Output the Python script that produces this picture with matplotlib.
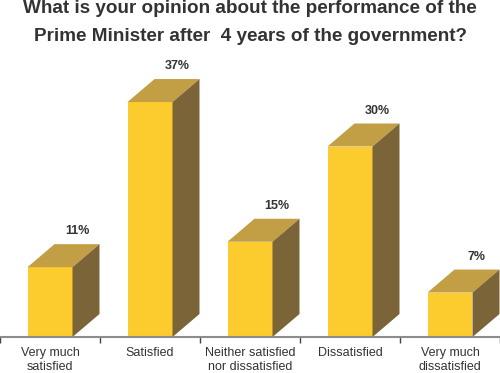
#!/usr/bin/env python
# coding=utf-8

import matplotlib
matplotlib.use("Agg")
import matplotlib.pyplot as plt
from matplotlib.patches import Polygon

categories = ["Very much\nsatisfied", "Satisfied", "Neither satisfied\nnor dissatisfied",
              "Dissatisfied", "Very much\ndissatisfied"]
values = [11, 37, 15, 30, 7]
labels = ["11%", "37%", "15%", "30%", "7%"]

title = "What is your opinion about the performance of the\nPrime Minister after  4 years of the government?"

FRONT = "#fccb2d"
TOP = "#c29e45"
SIDE = "#7b6538"
TEXT = "#333333"

plt.rcParams['font.family'] = ['Liberation Sans', 'DejaVu Sans']

fig = plt.figure(figsize=(5.0, 3.73), dpi=100)
# baseline at 337 px from top, axes top at 60 px from top
ax = fig.add_axes([0.0, 36 / 373.0, 1.0, 277 / 373.0])
ax.set_xlim(-0.5, 4.5)
ax.set_ylim(0, 277 / 6.35)

w = 0.45
dx = 0.27
dy = 23 / 6.35

for i, v in enumerate(values):
    x0 = i - w / 2
    x1 = i + w / 2
    front = Polygon([(x0, 0), (x1, 0), (x1, v), (x0, v)], closed=True,
                    facecolor=FRONT, edgecolor="none", zorder=3)
    top = Polygon([(x0, v), (x1, v), (x1 + dx, v + dy), (x0 + dx, v + dy)], closed=True,
                  facecolor=TOP, edgecolor="none", zorder=3)
    side = Polygon([(x1, 0), (x1 + dx, dy), (x1 + dx, v + dy), (x1, v)], closed=True,
                   facecolor=SIDE, edgecolor="none", zorder=3)
    for p in (front, top, side):
        ax.add_patch(p)
    ax.annotate(labels[i], (i + dx, v + dy), xytext=(0, 5), textcoords="offset points",
                ha="center", va="bottom", fontsize=9, fontweight="bold", color=TEXT)

for s in ("top", "right", "left"):
    ax.spines[s].set_visible(False)
ax.spines["bottom"].set_color("#8c8c8c")
ax.spines["bottom"].set_linewidth(1.5)
ax.spines["bottom"].set_zorder(4)

ax.set_yticks([])
ax.set_xticks([x - 0.5 for x in range(len(values) + 1)])
ax.set_xticklabels([])
ax.set_xticks(range(len(values)), minor=True)
ax.set_xticklabels(categories, minor=True, fontsize=9, color=TEXT, linespacing=1.3)
ax.tick_params(axis="x", which="major", direction="out", length=4, width=1, color="#444444")
ax.tick_params(axis="x", which="minor", length=0, pad=7)

fig.text(0.5, 0.999, title, ha="center", va="top", fontsize=13.6, fontweight="bold",
         color=TEXT, linespacing=1.8)

fig.savefig("out.png", dpi=100)
